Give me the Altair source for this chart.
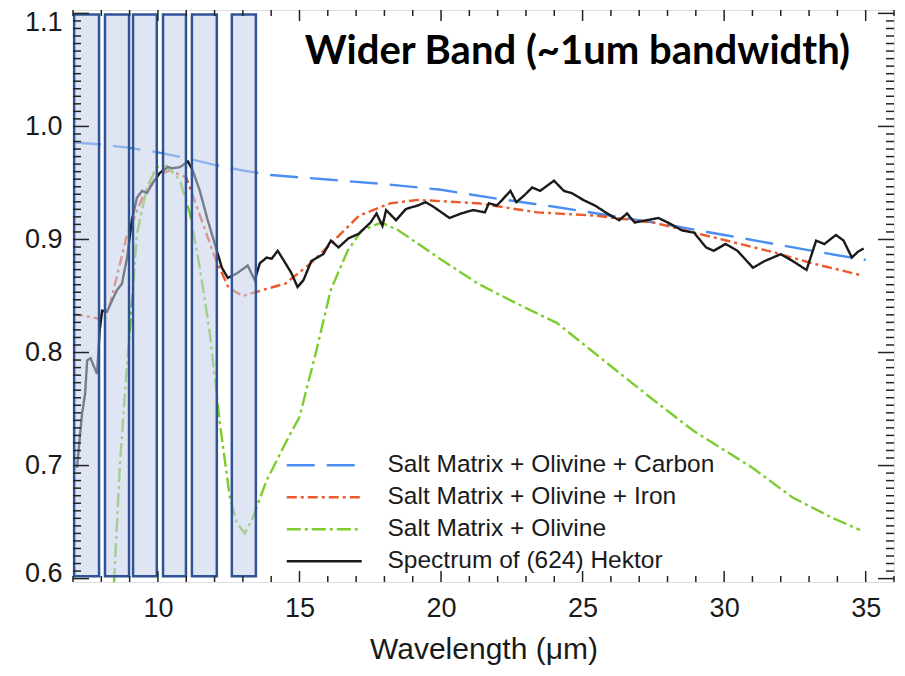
import altair as alt
import pandas as pd

# ---------------- data ----------------
names = [
    "Salt Matrix + Olivine + Carbon",
    "Salt Matrix + Olivine + Iron",
    "Salt Matrix + Olivine",
    "Spectrum of (624) Hektor",
]
colors = ["#4a8ef2", "#ec5a2c", "#7ccc2e", "#1a1a1a"]
dashes = [[28, 12], [10, 4, 3, 4], [14, 4, 3, 4], [1, 0]]

carbon_x = [7, 8, 9, 10, 11, 12, 13, 14, 15, 16, 18, 20, 22, 24, 26, 28, 30, 32, 34, 35]
carbon_y = [0.986, 0.984, 0.981, 0.977, 0.972, 0.966, 0.961, 0.957, 0.955, 0.953,
            0.949, 0.944, 0.936, 0.929, 0.921, 0.913, 0.904, 0.895, 0.886, 0.882]

iron_x = [7.0, 7.5, 7.9, 8.3, 8.9, 9.5, 10.0, 10.4, 11.0, 11.5, 12.0, 12.5, 13.0, 13.8,
          14.5, 15.4, 16.1, 17.1, 18.2, 19.2, 21.3, 23.4, 25.5, 27.5, 29.6, 31.7, 33.1, 34.9]
iron_y = [0.834, 0.832, 0.830, 0.842, 0.903, 0.940, 0.957, 0.961, 0.955, 0.920, 0.885,
          0.857, 0.850, 0.856, 0.861, 0.879, 0.896, 0.921, 0.932, 0.935, 0.932, 0.924,
          0.921, 0.915, 0.902, 0.889, 0.879, 0.868]

olivine_x = [8.45, 8.66, 8.91, 9.01, 9.26, 9.61, 9.96, 10.32, 10.78, 11.13, 11.48, 11.83,
             12.19, 12.54, 12.79, 13.07, 13.35, 13.84, 14.55, 15.0, 15.6, 16.1, 16.7, 17.2,
             17.9, 18.5, 19.9, 21.3, 22.7, 24.1, 25.3, 27.3, 28.9, 31.0, 32.4, 33.8, 34.8]
olivine_y = [0.597, 0.702, 0.790, 0.820, 0.905, 0.946, 0.964, 0.965, 0.952, 0.923, 0.875,
             0.818, 0.737, 0.672, 0.649, 0.640, 0.654, 0.687, 0.722, 0.743, 0.802, 0.855,
             0.890, 0.908, 0.915, 0.908, 0.884, 0.861, 0.843, 0.826, 0.802, 0.762, 0.731,
             0.698, 0.672, 0.654, 0.643]

hektor_x = [7.14, 7.32, 7.43, 7.50, 7.62, 7.85, 7.94, 8.03, 8.20, 8.38, 8.55, 8.73, 8.91,
            9.08, 9.26, 9.44, 9.61, 9.82, 10.07, 10.35, 10.53, 10.78, 11.06, 11.23, 11.48,
            11.76, 12.01, 12.26, 12.47, 12.79, 13.17, 13.42, 13.60, 13.84, 14.02, 14.23,
            14.48, 14.72, 14.93, 15.14, 15.42, 15.84, 16.11, 16.38, 16.73, 17.09, 17.51,
            17.72, 17.93, 18.06, 18.41, 18.76, 19.17, 19.45, 19.73, 20.30, 20.71, 21.13,
            21.55, 21.69, 21.97, 22.16, 22.45, 22.66, 22.94, 23.22, 23.50, 23.99, 24.34,
            24.62, 25.02, 25.44, 25.87, 26.29, 26.57, 26.84, 27.26, 27.68, 28.09, 28.51,
            28.94, 29.36, 29.63, 30.05, 30.47, 31.02, 31.44, 32.00, 32.42, 32.91, 33.25,
            33.54, 33.95, 34.22, 34.51, 34.72, 34.93]
hektor_y = [0.698, 0.746, 0.764, 0.793, 0.795, 0.781, 0.819, 0.837, 0.836, 0.846, 0.855,
            0.861, 0.884, 0.917, 0.937, 0.943, 0.941, 0.950, 0.959, 0.964, 0.963, 0.964,
            0.969, 0.961, 0.943, 0.917, 0.896, 0.875, 0.866, 0.870, 0.877, 0.864, 0.879,
            0.884, 0.883, 0.890, 0.880, 0.870, 0.858, 0.864, 0.881, 0.887, 0.899, 0.893,
            0.901, 0.905, 0.915, 0.923, 0.912, 0.926, 0.917, 0.927, 0.930, 0.933, 0.929,
            0.919, 0.923, 0.926, 0.924, 0.932, 0.930, 0.935, 0.943, 0.933, 0.939, 0.946,
            0.943, 0.952, 0.943, 0.941, 0.935, 0.930, 0.923, 0.917, 0.923, 0.915, 0.917,
            0.919, 0.914, 0.908, 0.906, 0.893, 0.890, 0.896, 0.890, 0.875, 0.881, 0.887,
            0.881, 0.873, 0.899, 0.896, 0.904, 0.899, 0.884, 0.889, 0.892]

band_start = [7.04, 8.13, 9.12, 10.18, 11.20, 12.61]
band_end = [7.92, 8.98, 9.96, 10.99, 12.08, 13.46]
band_low = 0.602
band_high = 1.099

x_major = [10, 15, 20, 25, 30, 35]
x_minor = [7, 8, 9, 11, 12, 13, 14, 16, 17, 18, 19, 21, 22, 23, 24, 26, 27, 28, 29,
           31, 32, 33, 34, 36]
y_major = [0.6, 0.7, 0.8, 0.9, 1.0, 1.1]
y_minor = [round(0.6 + i * 0.1 / 15, 5) for i in range(1, 76) if i % 15 != 0]

title_text = "Wider Band (~1um bandwidth)"
x_title = "Wavelength (\u03bcm)"

# ---------------- build ----------------
W, H = 821, 572
xs = alt.Scale(domain=[7, 36], nice=False, zero=False)
ys = alt.Scale(domain=[0.597, 1.103], nice=False, zero=False)

x_axis = alt.Axis(
    values=x_major, title=x_title, labelFont="Liberation Sans", labelFontSize=27,
    labelColor="#1a1a1a", tickSize=0, ticks=False, domain=False, grid=False,
    labelPadding=13, titleFont="Liberation Sans", titleFontSize=30,
    titleFontWeight="normal", titleColor="#1a1a1a", titlePadding=13)
y_axis = alt.Axis(
    values=y_major, format=".1f", title=None, labelFont="Liberation Sans",
    labelFontSize=27, labelColor="#1a1a1a", tickSize=0, ticks=False, domain=False,
    grid=False, labelPadding=11,
    labelOffset={"condition": [{"test": "datum.value > 1.05", "value": 9},
                               {"test": "datum.value < 0.65", "value": -5}],
                 "value": 0})

rows = []
for name, xx, yy in zip(names, [carbon_x, iron_x, olivine_x, hektor_x],
                        [carbon_y, iron_y, olivine_y, hektor_y]):
    for a, b in zip(xx, yy):
        rows.append({"wl": a, "refl": b, "series": name})
df = pd.DataFrame(rows)

leg = alt.Legend(
    orient="none", legendX=239, legendY=443, title=None,
    symbolType="M-5,0L5,0", symbolSize=225, symbolStrokeWidth=2.5,
    labelFontSize=24.5, labelFont="Liberation Sans", labelColor="#1a1a1a",
    rowPadding=7, labelOffset=51, labelLimit=600, padding=0,
)

lines = alt.Chart(df).mark_line(clip=True, strokeWidth=2.4).encode(
    x=alt.X("wl:Q", scale=xs, axis=x_axis),
    y=alt.Y("refl:Q", scale=ys, axis=y_axis),
    color=alt.Color("series:N", scale=alt.Scale(domain=names, range=colors), legend=leg),
    strokeDash=alt.StrokeDash("series:N", scale=alt.Scale(domain=names, range=dashes), legend=leg),
)

bdf = pd.DataFrame({"wl": band_start, "wl2": band_end,
                    "refl": [band_low] * len(band_start),
                    "refl2": [band_high] * len(band_start)})
bands = alt.Chart(bdf).mark_rect(fill="#c5d0e7", fillOpacity=0.55, stroke="#2f5496",
                                 strokeWidth=2.5).encode(
    x=alt.X("wl:Q", scale=xs, axis=x_axis), x2="wl2",
    y=alt.Y("refl:Q", scale=ys, axis=y_axis), y2="refl2",
)

tick_color = "#222222"


def xticks(vals, length):
    d = pd.DataFrame({"wl": vals})
    bot = alt.Chart(d).mark_rule(color=tick_color, strokeWidth=1.5).encode(
        x=alt.X("wl:Q", scale=xs, axis=x_axis), y=alt.value(H), y2=alt.value(H - length))
    top = alt.Chart(d).mark_rule(color=tick_color, strokeWidth=1.5).encode(
        x=alt.X("wl:Q", scale=xs, axis=x_axis), y=alt.value(0), y2=alt.value(length))
    return [bot, top]


def yticks(vals, length):
    d = pd.DataFrame({"refl": vals})
    left = alt.Chart(d).mark_rule(color=tick_color, strokeWidth=1.5).encode(
        y=alt.Y("refl:Q", scale=ys, axis=y_axis), x=alt.value(0), x2=alt.value(length))
    right = alt.Chart(d).mark_rule(color=tick_color, strokeWidth=1.5).encode(
        y=alt.Y("refl:Q", scale=ys, axis=y_axis), x=alt.value(W), x2=alt.value(W - length))
    return [left, right]


tick_layers = (xticks(x_major, 11) + xticks(x_minor, 6) +
               yticks(y_major, 16) + yticks(y_minor, 8))

title = alt.Chart(pd.DataFrame({"t": [title_text]})).mark_text(
    align="right", baseline="alphabetic", font="Lato", fontWeight="bold",
    fontSize=40, color="black").encode(
    x=alt.value(777), y=alt.value(54), text="t:N")

chart = alt.layer(lines, bands, *tick_layers, title).properties(
    width=W, height=H,
    autosize=alt.AutoSizeParams(type="none"),
    padding={"left": 65, "top": 2, "right": 2, "bottom": 86},
).configure_view(stroke="#222222", strokeWidth=2).configure(background="white")

chart.save("out.html", embed_options={"renderer": "svg", "actions": False})
